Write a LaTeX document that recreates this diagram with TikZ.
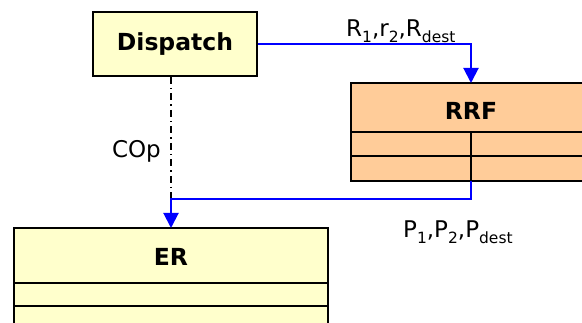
\documentclass[tikz,border=0pt]{standalone}
\usepackage{fontspec}
\setmainfont{DejaVu Sans}
\usetikzlibrary{arrows.meta}
\definecolor{lightyel}{HTML}{FFFFCC}
\definecolor{peach}{HTML}{FFCC99}
\definecolor{flowblue}{HTML}{0000FF}
\newcommand{\sbs}[1]{\raisebox{-0.22em}{\fontsize{15.5}{16}\selectfont #1}}
\tikzset{
  boxline/.style={draw=black, line width=2pt},
  title/.style={font=\fontsize{23.5}{25}\selectfont\bfseries, inner sep=0pt},
  lbl/.style={font=\fontsize{23}{25}\selectfont, inner sep=0pt},
  flow/.style={draw=flowblue, line width=2pt},
  flowarrow/.style={flow, -{Triangle[length=15pt, width=15pt]}},
  ctrl/.style={draw=black, line width=1.6pt, dash pattern=on 7pt off 4pt on 1.5pt off 4pt}
}
\begin{document}
\begin{tikzpicture}[x=1pt, y=-1pt]
\useasboundingbox (0,0) rectangle (582,323);
\clip (0,0) rectangle (582,323);
% Dispatch
\node[boxline, fill=lightyel, minimum width=164pt, minimum height=64pt, inner sep=0pt] (dispatch) at (175,44) {};
\node[title] (dispatchtxt) at (dispatch.center) {Dispatch};
% RRF
\path[boxline, fill=peach] (351,83) rectangle (600,181);
\node[minimum width=249pt, minimum height=49pt, inner sep=0pt] (rrf) at (475.5,107.5) {};
\node[title] (rrftxt) at (471,111) {RRF};
\draw[boxline] (351,132) -- (600,132);
\draw[boxline] (351,156) -- (600,156);
\draw[boxline] (471,132) -- (471,181);
% ER
\path[boxline, fill=lightyel] (14,228) rectangle (328,340);
\node[minimum width=314pt, minimum height=55pt, inner sep=0pt] (er) at (171,255.5) {};
\node[title] (ertxt) at (171,256.5) {ER};
\draw[boxline] (14,283) -- (328,283);
\draw[boxline] (14,306) -- (328,306);
% coordinates
\coordinate (rin) at (471,83);
\coordinate (rout) at (471,181);
\coordinate (bend) at (171,199);
\coordinate (erin) at (171,228);
\coordinate (dout) at (dispatch.south -| bend);
% connectors
\draw[ctrl] (dout) -- (bend);
\draw[flowarrow] (dispatch.east) -| (rin);
\draw[flowarrow] (rout) |- (bend) -- (erin);
% labels
\node[lbl, anchor=base west] (rlbl) at (346,37) {R\sbs{1},r\sbs{2},R\sbs{dest}};
\node[lbl, anchor=base east] (coplbl) at (161,158) {COp};
\node[lbl, anchor=base west] (plbl) at (403,238) {P\sbs{1},P\sbs{2},P\sbs{dest}};
\end{tikzpicture}
\end{document}
